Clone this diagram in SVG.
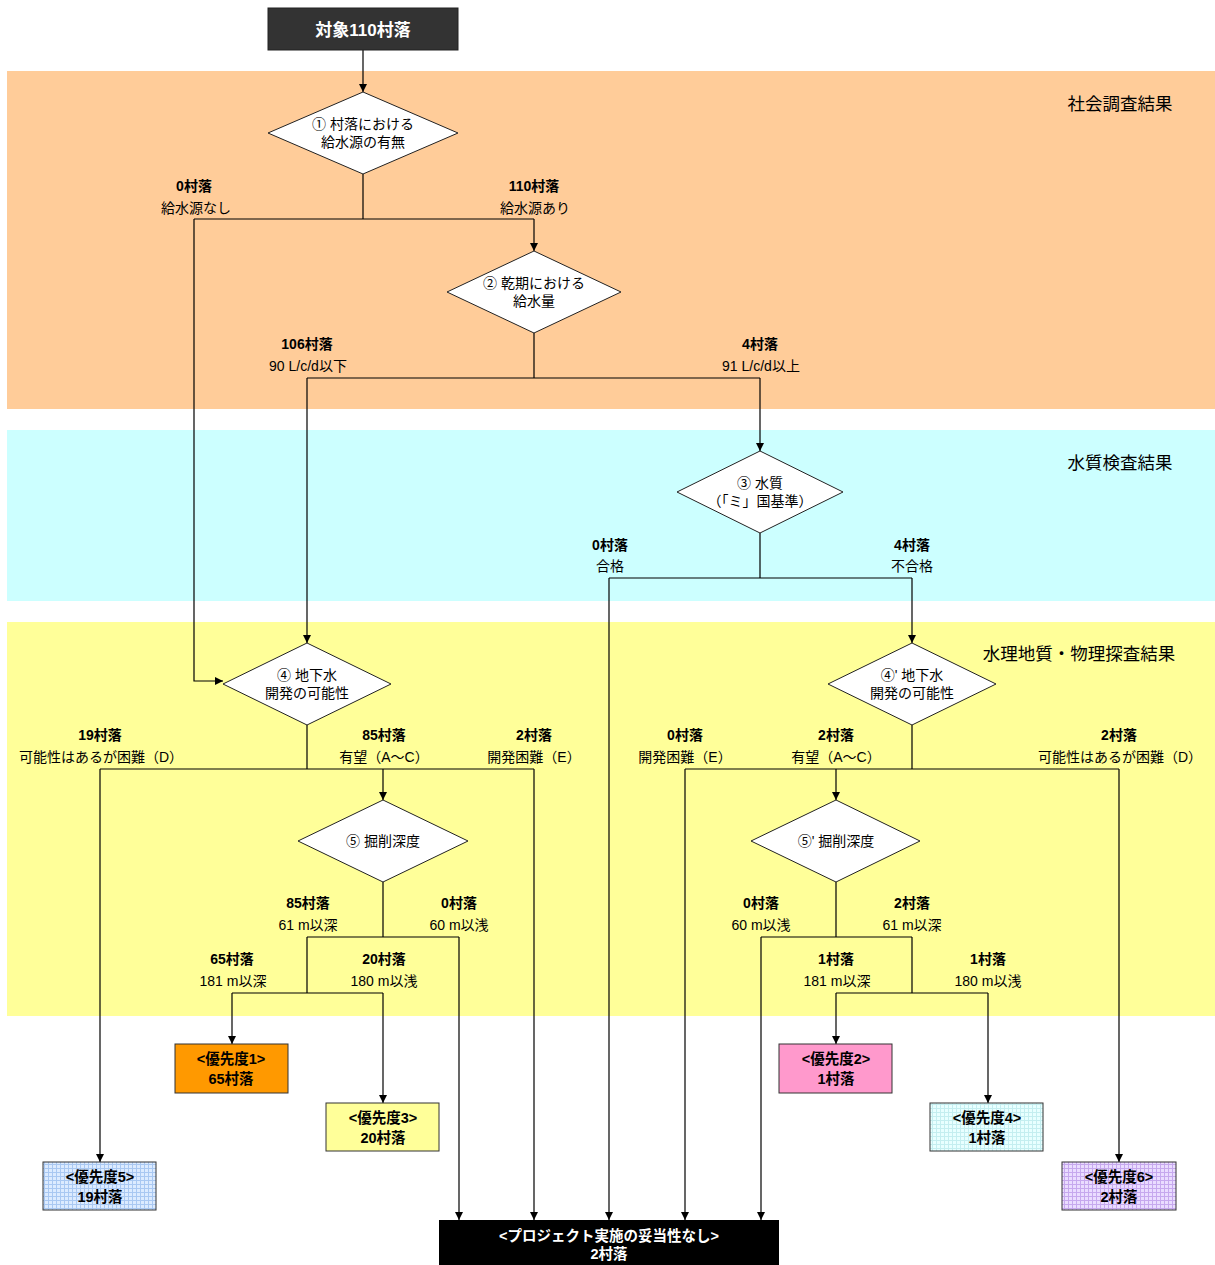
<svg xmlns="http://www.w3.org/2000/svg" width="1215" height="1265" viewBox="0 0 1215 1265">
  <style>
    text { font-family: "Liberation Sans", "Noto Sans CJK JP", sans-serif; fill: #000; text-anchor: middle; }
    .lbl { font-size: 14px; }
    .cnt { font-size: 14px; font-weight: bold; }
    .band { font-size: 17.5px; }
    .dtxt { font-size: 14px; }
    .btxt { font-size: 14.5px; font-weight: bold; }
    .wtxt { font-size: 14.5px; font-weight: bold; fill: #fff; }
    .dia { fill: #fff; stroke: #222; stroke-width: 1; }
    .box { stroke: #333; stroke-width: 1; }
    .ln { fill: none; stroke: #000; stroke-width: 1.2; }
    .arr { marker-end: url(#ah); }
  </style>
  <defs>
    <marker id="ah" markerUnits="userSpaceOnUse" markerWidth="9" markerHeight="8" refX="8" refY="4" orient="auto">
      <path d="M0,0 L8,4 L0,8 z" fill="#000"/>
    </marker>
    <pattern id="gridBlue" width="4" height="4" patternUnits="userSpaceOnUse">
      <rect width="4" height="4" fill="#DCEBFF"/>
      <path d="M0,0.5 H4 M0.5,0 V4" stroke="#A9C8F2" stroke-width="1"/>
    </pattern>
    <pattern id="gridCyan" width="4" height="4" patternUnits="userSpaceOnUse">
      <rect width="4" height="4" fill="#E8FFFF"/>
      <path d="M0,0.5 H4 M0.5,0 V4" stroke="#C4EEF0" stroke-width="1"/>
    </pattern>
    <pattern id="gridPurple" width="4" height="4" patternUnits="userSpaceOnUse">
      <rect width="4" height="4" fill="#EADCFF"/>
      <path d="M0,0.5 H4 M0.5,0 V4" stroke="#C6A8EE" stroke-width="1"/>
    </pattern>
  </defs>

  <rect width="1215" height="1265" fill="#fff"/>

  <!-- result bands -->
  <g id="band-social">
    <rect x="7" y="71" width="1208" height="338" fill="#FFCC99"/>
    <text class="band" x="1120" y="110">社会調査結果</text>
  </g>
  <g id="band-water">
    <rect x="7" y="430" width="1208" height="171" fill="#CCFFFF"/>
    <text class="band" x="1120" y="469">水質検査結果</text>
  </g>
  <g id="band-hydro">
    <rect x="7" y="622" width="1208" height="394" fill="#FFFF99"/>
    <text class="band" x="1079" y="660">水理地質・物理探査結果</text>
  </g>

  <!-- connectors -->
  <g id="connectors">
    <path class="ln arr" d="M363,50 V92"/>
    <path class="ln" d="M363,174 V219 M194,219 H534"/>
    <path class="ln arr" d="M534,219 V251"/>
    <path class="ln arr" d="M194,219 V681 H223"/>

    <path class="ln" d="M534,333 V378 M307,378 H760"/>
    <path class="ln arr" d="M307,378 V643"/>
    <path class="ln arr" d="M760,378 V451"/>

    <path class="ln" d="M760,533 V578 M609,578 H912"/>
    <path class="ln arr" d="M609,578 V1220"/>
    <path class="ln arr" d="M912,578 V643"/>

    <path class="ln" d="M307,725 V769 M100,769 H534"/>
    <path class="ln arr" d="M100,769 V1162"/>
    <path class="ln arr" d="M383,769 V800"/>
    <path class="ln arr" d="M534,769 V1220"/>

    <path class="ln" d="M912,725 V769 M685,769 H1119"/>
    <path class="ln arr" d="M685,769 V1220"/>
    <path class="ln arr" d="M836,769 V800"/>
    <path class="ln arr" d="M1119,769 V1162"/>

    <path class="ln" d="M383,882 V937 M307,937 H459 M307,937 V993 M232,993 H383"/>
    <path class="ln arr" d="M459,937 V1220"/>
    <path class="ln arr" d="M232,993 V1044"/>
    <path class="ln arr" d="M383,993 V1103"/>

    <path class="ln" d="M836,882 V937 M761,937 H912 M912,937 V993 M836,993 H988"/>
    <path class="ln arr" d="M761,937 V1220"/>
    <path class="ln arr" d="M836,993 V1044"/>
    <path class="ln arr" d="M988,993 V1103"/>
  </g>

  <!-- branch labels -->
  <g id="labels">
    <text class="cnt" x="194" y="191">0村落</text>
    <text class="lbl" x="196" y="213">給水源なし</text>
    <text class="cnt" x="534" y="191">110村落</text>
    <text class="lbl" x="535" y="213">給水源あり</text>

    <text class="cnt" x="307" y="349">106村落</text>
    <text class="lbl" x="308" y="371">90 L/c/d以下</text>
    <text class="cnt" x="760" y="349">4村落</text>
    <text class="lbl" x="761" y="371">91 L/c/d以上</text>

    <text class="cnt" x="610" y="550">0村落</text>
    <text class="lbl" x="610" y="571">合格</text>
    <text class="cnt" x="912" y="550">4村落</text>
    <text class="lbl" x="912" y="571">不合格</text>

    <text class="cnt" x="100" y="740">19村落</text>
    <text class="lbl" x="101" y="762">可能性はあるが困難（D）</text>
    <text class="cnt" x="384" y="740">85村落</text>
    <text class="lbl" x="384" y="762">有望（A～C）</text>
    <text class="cnt" x="534" y="740">2村落</text>
    <text class="lbl" x="534" y="762">開発困難（E）</text>

    <text class="cnt" x="685" y="740">0村落</text>
    <text class="lbl" x="685" y="762">開発困難（E）</text>
    <text class="cnt" x="836" y="740">2村落</text>
    <text class="lbl" x="836" y="762">有望（A～C）</text>
    <text class="cnt" x="1119" y="740">2村落</text>
    <text class="lbl" x="1120" y="762">可能性はあるが困難（D）</text>

    <text class="cnt" x="308" y="908">85村落</text>
    <text class="lbl" x="308" y="930">61 m以深</text>
    <text class="cnt" x="459" y="908">0村落</text>
    <text class="lbl" x="459" y="930">60 m以浅</text>
    <text class="cnt" x="232" y="964">65村落</text>
    <text class="lbl" x="233" y="986">181 m以深</text>
    <text class="cnt" x="384" y="964">20村落</text>
    <text class="lbl" x="384" y="986">180 m以浅</text>

    <text class="cnt" x="761" y="908">0村落</text>
    <text class="lbl" x="761" y="930">60 m以浅</text>
    <text class="cnt" x="912" y="908">2村落</text>
    <text class="lbl" x="912" y="930">61 m以深</text>
    <text class="cnt" x="836" y="964">1村落</text>
    <text class="lbl" x="837" y="986">181 m以深</text>
    <text class="cnt" x="988" y="964">1村落</text>
    <text class="lbl" x="988" y="986">180 m以浅</text>
  </g>

  <!-- start node -->
  <g id="start">
    <rect x="268" y="8" width="190" height="42" fill="#333" stroke="#222"/>
    <text class="wtxt" x="363" y="36" style="font-size:17px">対象110村落</text>
  </g>

  <!-- decision nodes -->
  <g id="d1">
    <polygon class="dia" points="363,92 458,133 363,174 268,133"/>
    <text class="dtxt" x="363" y="129">① 村落における</text>
    <text class="dtxt" x="363" y="147">給水源の有無</text>
  </g>
  <g id="d2">
    <polygon class="dia" points="534,251 621,292 534,333 447,292"/>
    <text class="dtxt" x="534" y="288">② 乾期における</text>
    <text class="dtxt" x="534" y="306">給水量</text>
  </g>
  <g id="d3">
    <polygon class="dia" points="760,451 843,492 760,533 677,492"/>
    <text class="dtxt" x="760" y="488">③ 水質</text>
    <text class="dtxt" x="760" y="506">（「ミ」国基準）</text>
  </g>
  <g id="d4">
    <polygon class="dia" points="307,643 391,684 307,725 223,684"/>
    <text class="dtxt" x="307" y="680">④ 地下水</text>
    <text class="dtxt" x="307" y="698">開発の可能性</text>
  </g>
  <g id="d4b">
    <polygon class="dia" points="912,643 996,684 912,725 828,684"/>
    <text class="dtxt" x="912" y="680">④' 地下水</text>
    <text class="dtxt" x="912" y="698">開発の可能性</text>
  </g>
  <g id="d5">
    <polygon class="dia" points="383,800 468,841 383,882 298,841"/>
    <text class="dtxt" x="383" y="846">⑤ 掘削深度</text>
  </g>
  <g id="d5b">
    <polygon class="dia" points="836,800 920,841 836,882 751,841"/>
    <text class="dtxt" x="836" y="846">⑤' 掘削深度</text>
  </g>

  <!-- outcome nodes -->
  <g id="p1">
    <rect class="box" x="175" y="1044" width="113" height="49" fill="#FF9900"/>
    <text class="btxt" x="231" y="1064">&lt;優先度1&gt;</text>
    <text class="btxt" x="231" y="1084">65村落</text>
  </g>
  <g id="p3">
    <rect class="box" x="326" y="1103" width="113" height="48" fill="#FFFF99"/>
    <text class="btxt" x="383" y="1123">&lt;優先度3&gt;</text>
    <text class="btxt" x="383" y="1143">20村落</text>
  </g>
  <g id="p5">
    <rect class="box" x="43" y="1162" width="113" height="48" fill="url(#gridBlue)"/>
    <text class="btxt" x="100" y="1182">&lt;優先度5&gt;</text>
    <text class="btxt" x="100" y="1202">19村落</text>
  </g>
  <g id="p2">
    <rect class="box" x="779" y="1044" width="113" height="49" fill="#FF99CC"/>
    <text class="btxt" x="836" y="1064">&lt;優先度2&gt;</text>
    <text class="btxt" x="836" y="1084">1村落</text>
  </g>
  <g id="p4">
    <rect class="box" x="930" y="1103" width="113" height="48" fill="url(#gridCyan)"/>
    <text class="btxt" x="987" y="1123">&lt;優先度4&gt;</text>
    <text class="btxt" x="987" y="1143">1村落</text>
  </g>
  <g id="p6">
    <rect class="box" x="1062" y="1162" width="114" height="48" fill="url(#gridPurple)"/>
    <text class="btxt" x="1119" y="1182">&lt;優先度6&gt;</text>
    <text class="btxt" x="1119" y="1202">2村落</text>
  </g>
  <g id="none">
    <rect x="439" y="1220" width="340" height="45" fill="#000"/>
    <text class="wtxt" x="609" y="1241">&lt;プロジェクト実施の妥当性なし&gt;</text>
    <text class="wtxt" x="609" y="1259">2村落</text>
  </g>
</svg>
